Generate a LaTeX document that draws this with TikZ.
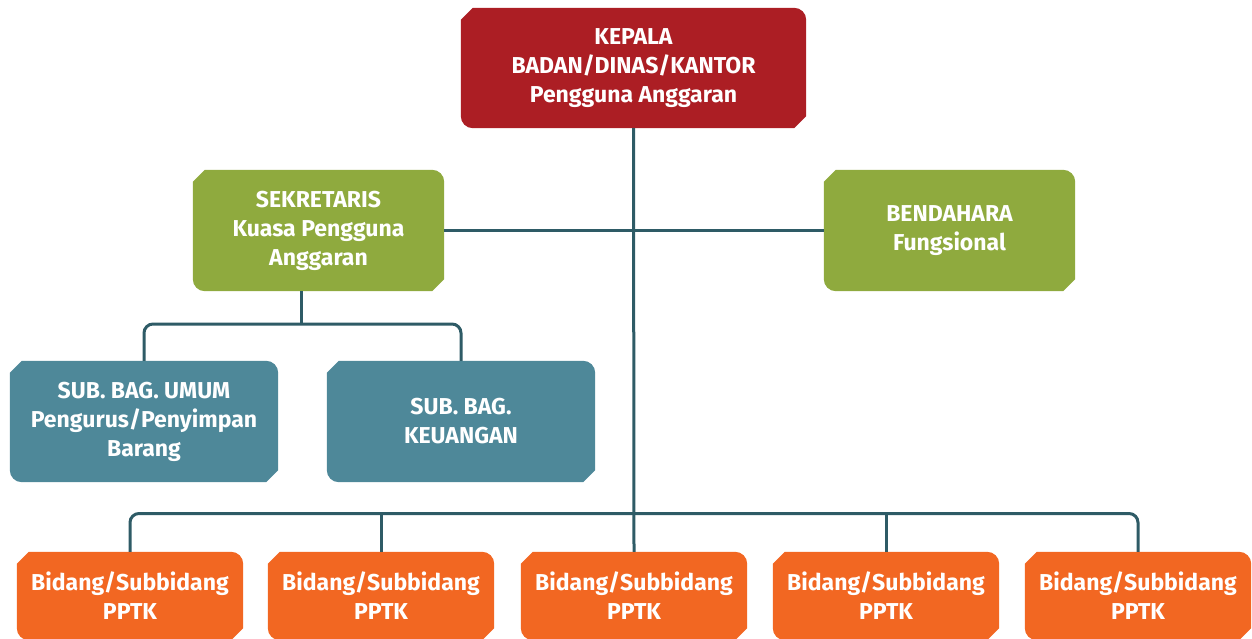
\documentclass[tikz,border=0pt]{standalone}
\usepackage{fontspec}
\setmainfont{Fira Sans}
\usetikzlibrary{calc,backgrounds}

\definecolor{headred}{HTML}{AC1E24}
\definecolor{leafgreen}{HTML}{8FAA3E}
\definecolor{slateteal}{HTML}{4E8899}
\definecolor{unitorange}{HTML}{F26722}
\definecolor{wire}{HTML}{2E5B66}

% filled box: top-left and bottom-right corners cut, the other two rounded
\newcommand{\orgshape}[2]{%
  \fill[#2] let \p1=(#1.north west), \p2=(#1.south east) in
    (\x1,\y1-12pt) -- (\x1+12pt,\y1) -- (\x2-12pt,\y1)
    arc[start angle=90,end angle=0,radius=12pt]
    -- (\x2,\y2+12pt) -- (\x2-12pt,\y2) -- (\x1+12pt,\y2)
    arc[start angle=270,end angle=180,radius=12pt] -- cycle;}

\tikzset{
  orgbox/.style={rectangle, inner sep=0pt, align=center, text=white,
    font=\fontsize{23}{29}\selectfont\bfseries},
  conn/.style={draw=wire, line width=3pt, rounded corners=9pt}
}

\begin{document}
\begin{tikzpicture}[x=1pt,y=1pt]
\useasboundingbox (0,0) rectangle (1252,-638);

% boxes
\node[orgbox, minimum width=345, minimum height=120] (kepala) at (633.5,-68)
  {KEPALA\\BADAN/DINAS/KANTOR\\Pengguna Anggaran};
\node[orgbox, minimum width=251, minimum height=121] (sekretaris) at (318.5,-230.5)
  {SEKRETARIS\\Kuasa Pengguna\\Anggaran};
\node[orgbox, minimum width=251, minimum height=121] (bendahara) at (949.5,-230.5)
  {BENDAHARA\\Fungsional};
\node[orgbox, minimum width=268, minimum height=121] (umum) at (144,-421.5)
  {SUB. BAG. UMUM\\Pengurus/Penyimpan\\Barang};
\node[orgbox, minimum width=268, minimum height=121] (keuangan) at (461,-421.5)
  {SUB. BAG.\\KEUANGAN};
\foreach \i/\cx in {1/130,2/381,3/634,4/886,5/1138}{
  \node[orgbox, minimum width=226, minimum height=88] (bidang\i) at (\cx,-596)
    {Bidang/Subbidang\\PPTK};
}

\begin{scope}[on background layer]
  \orgshape{kepala}{headred}
  \orgshape{sekretaris}{leafgreen}
  \orgshape{bendahara}{leafgreen}
  \orgshape{umum}{slateteal}
  \orgshape{keuangan}{slateteal}
  \foreach \i in {1,...,5}{\orgshape{bidang\i}{unitorange}}

  % connectors
  \coordinate (subjoin) at (301,-324);
  \coordinate (unitjoin) at (634,-513.5);
  \draw[conn] (kepala.south) -- (bidang3.north);
  \draw[conn] (sekretaris.east) -- (bendahara.west);
  \draw[conn] (sekretaris.south -| subjoin) -- (subjoin);
  \draw[conn] (umum.north) |- (subjoin) -| (keuangan.north);
  \draw[conn] (bidang1.north) |- (unitjoin) -| (bidang5.north);
  \draw[conn] (bidang2.north) -- (bidang2.north |- unitjoin);
  \draw[conn] (bidang4.north) -- (bidang4.north |- unitjoin);
\end{scope}
\end{tikzpicture}
\end{document}
